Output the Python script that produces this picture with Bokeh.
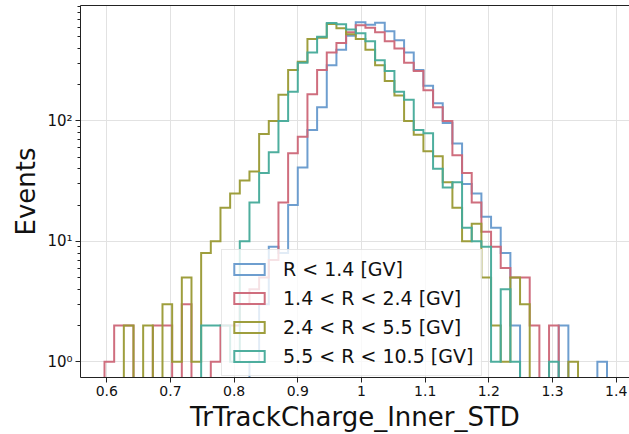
import numpy as np
from bokeh.plotting import figure
from bokeh.models import (Range1d, FixedTicker, LinearAxis, Legend, LegendItem,
                          ColumnDataSource, CustomJSTickFormatter)
from bokeh.embed import file_html
from bokeh.resources import INLINE

# ---------------- data ----------------
bin_lo = 0.5964
bin_hi = 1.3856
n_bins = 52

series_labels = ["R < 1.4 [GV]", "1.4 < R < 2.4 [GV]",
                 "2.4 < R < 5.5 [GV]", "5.5 < R < 10.5 [GV]"]
series_colors = ["#6699CC", "#CC6677", "#999933", "#44AA99"]

counts_r_lt_1p4 = [0, 0, 0, 0, 0, 0, 0, 0, 0, 0,
                   0, 0, 0, 0, 0, 1, 3, 9, 8, 20,
                   41, 84, 130, 290, 390, 510, 660, 630, 655, 555,
                   468, 370, 265, 196, 140, 96, 65, 30, 25, 16,
                   13, 8, 2, 0, 0, 0, 0, 2, 0, 0,
                   0, 1]
counts_r_1p4_2p4 = [1, 2, 2, 0, 0, 2, 2, 0, 3, 0,
                    0, 1, 2, 2, 3, 4, 5, 7, 21, 54,
                    74, 167, 265, 370, 445, 545, 625, 595, 545, 460,
                    400, 305, 260, 180, 130, 100, 52, 37, 21, 12,
                    9, 6, 5, 5, 2, 0, 2, 0, 0, 0,
                    0, 0]
counts_r_2p4_5p5 = [0, 0, 2, 0, 2, 0, 3, 1, 5, 1,
                    8, 10, 19, 25, 32, 38, 78, 100, 165, 265,
                    310, 480, 490, 640, 590, 525, 480, 390, 290, 215,
                    163, 100, 77, 56, 51, 31, 19, 10, 14, 5,
                    2, 1, 5, 3, 0, 0, 0, 0, 1, 0,
                    0, 0]
counts_r_5p5_10p5 = [0, 0, 0, 0, 0, 0, 0, 0, 0, 0,
                     2, 2, 2, 1, 10, 21, 37, 55, 100, 175,
                     305, 370, 500, 650, 635, 575, 535, 460, 320, 260,
                     175, 150, 84, 79, 40, 28, 31, 13, 10, 9,
                     1, 4, 1, 0, 0, 0, 1, 0, 0, 0,
                     0, 0]

x_ticks = [0.6, 0.7, 0.8, 0.9, 1.0, 1.1, 1.2, 1.3, 1.4]
y_ticks = [1, 10, 100]
y_minor_ticks = [2, 3, 4, 5, 6, 7, 8, 9, 20, 30, 40, 50, 60, 70, 80, 90,
                 200, 300, 400, 500, 600, 700, 800, 900]

x_label = "TrTrackCharge_Inner_STD"
y_label = "Events"

# ---------------- figure ----------------
FONT = "DejaVu Sans"
p = figure(width=629, height=434, output_backend="svg", toolbar_location=None,
           y_axis_type="log",
           x_range=Range1d(0.5587, 1.4209), y_range=Range1d(0.74, 910),
           min_border_left=80, min_border_right=0, min_border_top=5,
           min_border_bottom=51)
p.outline_line_color = None
p.background_fill_color = "white"

edges = np.linspace(bin_lo, bin_hi, n_bins + 1)
floor = 1e-3


def step_source(counts):
    c = np.array(counts, dtype=float)
    c = np.where(c > 0, c, floor)
    xs = [edges[0]]
    ys = [floor]
    for i in range(n_bins):
        xs += [edges[i], edges[i + 1]]
        ys += [c[i], c[i]]
    xs.append(edges[-1])
    ys.append(floor)
    return ColumnDataSource(dict(x=xs, y=ys))


all_counts = [counts_r_lt_1p4, counts_r_1p4_2p4, counts_r_2p4_5p5, counts_r_5p5_10p5]
items = []
for counts, color, label in zip(all_counts, series_colors, series_labels):
    r = p.patch("x", "y", source=step_source(counts), fill_color=None,
                line_color=color, line_width=2, line_alpha=0.95,
                line_join="miter")
    items.append(LegendItem(label=label, renderers=[r]))

# axes
xa = p.xaxis[0]
xa.ticker = FixedTicker(ticks=x_ticks, minor_ticks=[])
ya = p.yaxis[0]
ya.ticker = FixedTicker(ticks=y_ticks, minor_ticks=y_minor_ticks)
ya.formatter = CustomJSTickFormatter(code="""
const sup = {0: '\u2070', 1: '\u00b9', 2: '\u00b2', 3: '\u00b3'};
const e = Math.round(Math.log10(tick));
return '10' + sup[e];
""")

for ax in (xa, ya):
    ax.axis_line_color = "#222222"
    ax.axis_line_width = 1
    ax.major_tick_line_color = "#222222"
    ax.minor_tick_line_color = "#222222"
    ax.major_tick_in = 0
    ax.major_tick_out = 5
    ax.minor_tick_in = 0
    ax.minor_tick_out = 3
    ax.major_label_text_font = FONT
    ax.major_label_text_font_size = "14px"
    ax.major_label_text_color = "#111111"
    ax.major_label_standoff = 3
    ax.axis_label_text_font = FONT
    ax.axis_label_text_font_size = "26px"
    ax.axis_label_text_font_style = "normal"
    ax.axis_label_text_color = "#111111"
    ax.axis_label_standoff = 3

ya.major_label_text_font_size = "15px"
xa.axis_label = x_label
ya.axis_label = y_label

top_axis = LinearAxis(axis_line_color="#222222", axis_line_width=1,
                      major_tick_line_color=None, minor_tick_line_color=None,
                      major_tick_in=0, major_tick_out=0, minor_tick_in=0,
                      minor_tick_out=0, major_label_text_font_size="0px",
                      major_label_standoff=0, ticker=FixedTicker(ticks=[]))
p.add_layout(top_axis, "above")

p.xgrid.grid_line_color = "#e2e2e2"
p.ygrid.grid_line_color = "#e2e2e2"
p.xgrid.grid_line_width = 1
p.ygrid.grid_line_width = 1

legend = Legend(items=items, location=(141, 1),
                label_text_font=FONT, label_text_font_size="19px",
                label_text_color="#111111",
                glyph_width=38, glyph_height=14, label_standoff=15,
                label_height=21, padding=8, spacing=7, margin=0,
                border_line_color="#d0d0d0", border_line_width=1,
                background_fill_color="white", background_fill_alpha=0.8)
p.add_layout(legend)

open("out.html", "w", encoding="utf-8").write(file_html(p, INLINE))
